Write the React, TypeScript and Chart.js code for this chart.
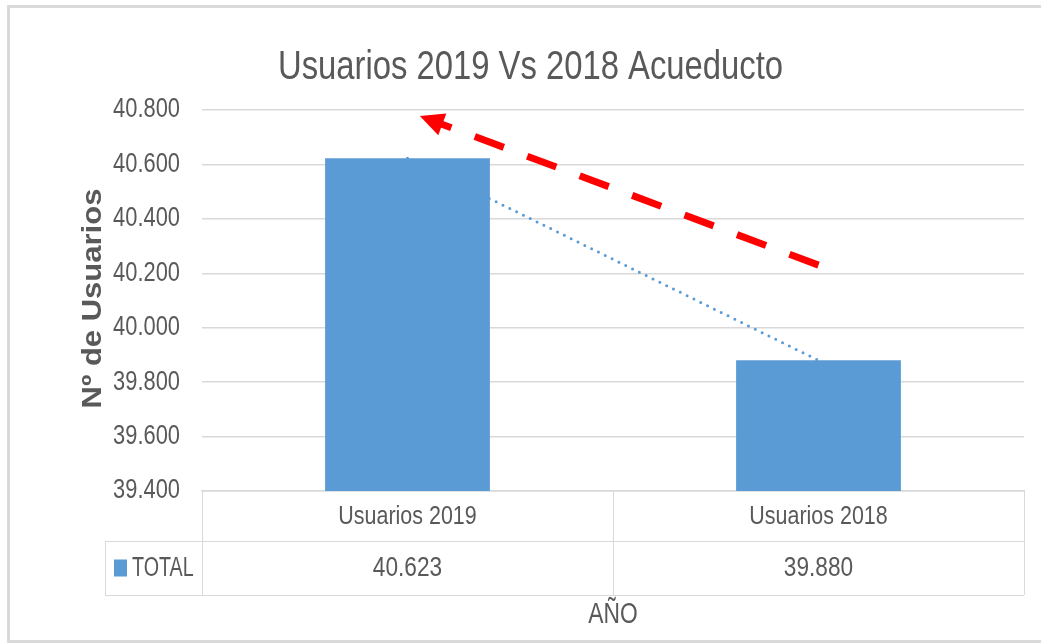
import React, { useEffect, useRef } from 'react';
import { Chart, registerables } from 'chart.js';

Chart.register(...registerables);

// ---- data ----
const categories = ['Usuarios 2019', 'Usuarios 2018'];
const totals = [40623, 39880];
const seriesName = 'TOTAL';
const yMin = 39400;
const yMax = 40800;
const yStep = 200;
const chartTitle = 'Usuarios 2019 Vs 2018 Acueducto';
const yTitle = 'Nº de Usuarios';
const xTitle = 'AÑO';
// red arrow annotation, in data space: [category position, value]
const arrowTail = [1.0, 40230];
const arrowTip = [0.03, 40778];

// ---- styles ----
const FONT = "'Liberation Sans', Arial, sans-serif";
const TEXT = '#595959';
const GRID = '#d9d9d9';
const BLUE = '#5b9bd5';

const fmt = (n: number) =>
  Math.round(n).toString().replace(/\B(?=(\d{3})+(?!\d))/g, '.');

function linearTrend(vals: number[]): number[] {
  const n = vals.length;
  const mx = (n - 1) / 2;
  const my = vals.reduce((a, b) => a + b, 0) / n;
  let num = 0;
  let den = 0;
  vals.forEach((v, i) => {
    num += (i - mx) * (v - my);
    den += (i - mx) * (i - mx);
  });
  const slope = den ? num / den : 0;
  return vals.map((_, i) => my + slope * (i - mx));
}

// condensed text (the reference uses a narrow Calibri-like face)
function drawText(
  ctx: CanvasRenderingContext2D,
  text: string,
  x: number,
  y: number,
  size: number,
  opts: { sx?: number; align?: CanvasTextAlign; bold?: boolean; rotate?: number; color?: string } = {}
) {
  const { sx = 0.82, align = 'center', bold = false, rotate = 0, color = TEXT } = opts;
  ctx.save();
  ctx.translate(x, y);
  if (rotate) ctx.rotate(rotate);
  ctx.scale(rotate ? 1 : sx, rotate ? sx : 1);
  ctx.font = `${bold ? 'bold ' : ''}${size}px ${FONT}`;
  ctx.fillStyle = color;
  ctx.textAlign = align;
  ctx.textBaseline = 'middle';
  ctx.fillText(text, 0, 0);
  ctx.restore();
}

const framePlugin = {
  id: 'frame',
  beforeDraw(chart: any) {
    const { ctx, width, height } = chart;
    ctx.save();
    ctx.strokeStyle = GRID;
    ctx.lineWidth = 3;
    ctx.beginPath();
    ctx.moveTo(7, 6.5);
    ctx.lineTo(width, 6.5);
    ctx.moveTo(8.5, 5);
    ctx.lineTo(8.5, height);
    ctx.moveTo(7, height - 1.5);
    ctx.lineTo(width, height - 1.5);
    ctx.stroke();
    ctx.restore();
  },
};

const labelsPlugin = {
  id: 'condensedLabels',
  afterDraw(chart: any) {
    const { ctx, chartArea, width } = chart;
    const ys = chart.scales.y;
    // chart title
    drawText(ctx, chartTitle, width / 2 + 10, 68, 40, { sx: 0.82 });
    // y tick labels
    ys.ticks.forEach((t: any) => {
      drawText(ctx, fmt(t.value), chartArea.left - 22, ys.getPixelForValue(t.value), 27, {
        sx: 0.81,
        align: 'right',
      });
    });
    // y axis title
    drawText(ctx, yTitle, chartArea.left - 109, (chartArea.top + chartArea.bottom) / 2 - 2, 31, {
      bold: true,
      rotate: -Math.PI / 2,
      sx: 0.88,
    });
  },
};

const arrowPlugin = {
  id: 'redArrow',
  afterDatasetsDraw(chart: any) {
    const { ctx } = chart;
    const xs = chart.scales.x;
    const ys = chart.scales.y;
    const tx = xs.getPixelForValue(arrowTail[0]);
    const ty = ys.getPixelForValue(arrowTail[1]);
    const hx = xs.getPixelForValue(arrowTip[0]);
    const hy = ys.getPixelForValue(arrowTip[1]);
    const dx = hx - tx;
    const dy = hy - ty;
    const len = Math.hypot(dx, dy);
    const ux = dx / len;
    const uy = dy / len;
    const headLen = 24;
    const headW = 23;
    const bx = hx - ux * headLen;
    const by = hy - uy * headLen;
    ctx.save();
    ctx.strokeStyle = '#ff0000';
    ctx.fillStyle = '#ff0000';
    ctx.lineWidth = 7;
    ctx.lineCap = 'butt';
    ctx.setLineDash([31, 25]);
    ctx.beginPath();
    ctx.moveTo(tx, ty);
    ctx.lineTo(bx + ux * 2, by + uy * 2);
    ctx.stroke();
    ctx.setLineDash([]);
    ctx.beginPath();
    ctx.moveTo(hx, hy);
    ctx.lineTo(bx - uy * headW / 2, by + ux * headW / 2);
    ctx.lineTo(bx + uy * headW / 2, by - ux * headW / 2);
    ctx.closePath();
    ctx.fill();
    ctx.restore();
  },
};

const tablePlugin = {
  id: 'dataTable',
  afterDraw(chart: any) {
    const { ctx, chartArea } = chart;
    const xs = chart.scales.x;
    const top = chartArea.bottom;
    const row1 = top + 50;
    const row2 = top + 104;
    const left = xs.left;
    const right = xs.right;
    const legendLeft = left - 97;
    const n = categories.length;
    const centers = categories.map((_, i) => xs.getPixelForValue(i));
    const bounds: number[] = [left];
    for (let i = 1; i < n; i++) bounds.push((centers[i - 1] + centers[i]) / 2);
    bounds.push(right);

    ctx.save();
    ctx.strokeStyle = GRID;
    ctx.lineWidth = 1;
    ctx.beginPath();
    bounds.forEach((b) => {
      const x = Math.round(b) + 0.5;
      ctx.moveTo(x, top);
      ctx.lineTo(x, row2);
    });
    ctx.moveTo(Math.round(legendLeft) + 0.5, row1);
    ctx.lineTo(Math.round(legendLeft) + 0.5, row2);
    ctx.moveTo(legendLeft, row1 + 0.5);
    ctx.lineTo(right, row1 + 0.5);
    ctx.moveTo(legendLeft, row2 + 0.5);
    ctx.lineTo(right, row2 + 0.5);
    ctx.stroke();
    ctx.restore();

    categories.forEach((c, i) => {
      drawText(ctx, c, centers[i], (top + row1) / 2 + 1, 26.5, { sx: 0.81 });
      drawText(ctx, fmt(totals[i]), centers[i], (row1 + row2) / 2 + 1, 27, { sx: 0.84 });
    });

    // legend key + series name
    const midRow2 = (row1 + row2) / 2;
    ctx.save();
    ctx.fillStyle = BLUE;
    ctx.fillRect(legendLeft + 9, midRow2 - 8.5, 13, 17);
    ctx.restore();
    drawText(ctx, seriesName, legendLeft + 27, midRow2 + 1, 27, { sx: 0.73, align: 'left' });

    // x axis title
    drawText(ctx, xTitle, (left + right) / 2, row2 + 20, 30, { sx: 0.76 });
  },
};

export default function App() {
  const ref = useRef<HTMLCanvasElement>(null);
  useEffect(() => {
    document.body.style.margin = '0';
    document.body.style.overflow = 'hidden';
    const chart = new Chart(ref.current as HTMLCanvasElement, {
      type: 'bar',
      data: {
        labels: categories,
        datasets: [
          {
            type: 'bar',
            label: seriesName,
            data: totals,
            backgroundColor: BLUE,
            barPercentage: 0.401,
            categoryPercentage: 1,
            order: 1,
          },
          {
            type: 'line',
            label: 'Lineal (TOTAL)',
            data: linearTrend(totals),
            borderColor: BLUE,
            borderWidth: 3,
            borderDash: [0, 7.6],
            borderCapStyle: 'round',
            pointRadius: 0,
            fill: false,
            order: 2,
          } as any,
        ],
      },
      options: {
        responsive: true,
        maintainAspectRatio: false,
        animation: false,
        events: [],
        layout: { padding: { left: 36, right: 17, top: 110, bottom: 0 } },
        plugins: {
          legend: { display: false },
          tooltip: { enabled: false },
          title: { display: false },
        },
        scales: {
          x: {
            type: 'category',
            offset: true,
            grid: { display: false },
            border: { display: true, color: GRID, width: 1.5 },
            ticks: { display: false },
            afterFit: (s: any) => {
              s.height = 152;
            },
          },
          y: {
            min: yMin,
            max: yMax,
            ticks: { stepSize: yStep, display: false },
            grid: { color: GRID, lineWidth: 1.5, drawTicks: false },
            border: { display: false },
            title: { display: false },
            afterFit: (s: any) => {
              s.width = 166;
            },
          },
        },
      } as any,
      plugins: [framePlugin, arrowPlugin, tablePlugin, labelsPlugin],
    });
    return () => chart.destroy();
  }, []);
  return (
    <div style={{ width: 1041, height: 643, position: 'relative' }}>
      <canvas ref={ref} />
    </div>
  );
}
